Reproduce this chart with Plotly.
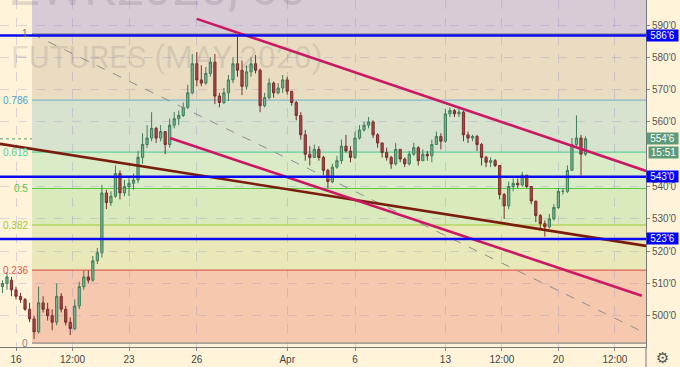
import plotly.graph_objects as go

# ---------------- data ----------------
opens = [509, 510, 511, 508, 506, 505, 502, 499, 495, 504,
         502, 500, 498, 506, 502, 498, 496, 503, 509, 512,
         511, 517, 519.5, 538, 535, 537, 544, 538, 540, 541,
         542, 549, 553, 555, 558, 555, 557, 553, 559, 561,
         562, 564.5, 569, 578, 573, 572, 575, 578.5, 568, 566,
         569, 573, 578, 576, 571, 575.5, 578, 576, 565, 567.5,
         572, 569, 570.5, 573, 569.5, 566, 562, 556, 550, 549,
         551.5, 549, 545, 541.5, 546, 548, 552.5, 551, 549, 555,
         557.5, 559, 560, 556, 553.5, 550.5, 549, 547, 551.5, 548.5,
         547, 550, 552, 548, 550, 549.5, 553, 555.5, 554, 562.5,
         563.5, 562.5, 563, 556, 555, 555.5, 553, 549, 547.5, 548,
         546.5, 537.5, 534, 540, 541, 540.5, 543.5, 540, 535.5, 531,
         528.5, 527.5, 530, 533.5, 538.5, 538.5, 545, 553, 555, 550]
highs = [511, 513.5, 512, 509, 507, 505.5, 504, 500, 509, 506,
         504, 502, 510, 507, 503, 499.5, 505, 510.5, 514, 514,
         518.5, 521, 540.5, 539, 538.5, 546.5, 545, 542, 542.5, 544,
         551, 556.5, 559, 563, 558.5, 559, 557, 561, 563, 563.5,
         566, 571.5, 581, 581.6, 577.5, 577, 580, 581, 569, 570.5,
         574.5, 580, 586.3, 579, 577.5, 580, 580.7, 576.5, 569, 573.5,
         572.5, 572, 574.5, 574, 569.5, 566.5, 563, 557.5, 552.5, 553,
         552.5, 549.5, 545.5, 547, 549.5, 554.5, 556, 552.5, 557, 559,
         560, 561.5, 560.5, 556.5, 553.5, 552, 549.5, 553.5, 551.5, 549,
         551, 553.5, 552.5, 551.5, 551, 554.5, 557, 556.5, 564, 564.5,
         564, 564, 563.5, 557, 556, 556, 553.5, 549.5, 549, 548.5,
         546.5, 538, 541.5, 542.5, 542.5, 544.5, 543.5, 540, 535.5, 531.5,
         529.5, 531.5, 534.5, 539.5, 539.5, 546.5, 555, 562, 556, 555.5]
lows = [507, 508, 506, 505, 504, 501.5, 498, 492.8, 494.5, 501,
        498.5, 495.5, 497, 501, 497, 494, 495.5, 502, 508, 510,
        510.5, 516, 518, 533, 534, 536.5, 536, 537, 537, 539,
        541, 547, 552, 554, 553.5, 554, 550, 552, 558, 559,
        561.5, 564, 568.5, 571, 571, 571.5, 574, 565.5, 564.5, 565.5,
        566.5, 572, 574, 568.3, 570, 574, 575, 563, 564.5, 567,
        567.5, 568.5, 569, 568.5, 565, 560.5, 554.5, 548, 546.5, 549,
        548, 543.5, 539.5, 541, 545.5, 547, 550.5, 547.5, 548.5, 554.5,
        557, 558, 555, 552, 549, 548, 545.5, 546.5, 547.5, 546,
        546.5, 549.5, 546.5, 548, 548, 547.5, 553, 551.5, 553.5, 561.5,
        561.5, 561.5, 554, 553.5, 554, 551, 546.5, 546, 546, 546,
        536, 530, 533, 538.5, 539.5, 540, 539.5, 534.5, 529, 527,
        524.5, 527, 529.5, 533, 537.5, 538, 545, 552, 543.5, 549.5]
closes = [510, 512, 508, 506, 505, 502, 499, 495, 504, 502,
          500, 498, 506, 502, 498, 496, 503, 509, 512, 511,
          517, 519.5, 538, 535, 537, 544, 538, 540, 541, 542,
          549, 553, 555, 558, 555, 557, 553, 559, 561, 562,
          564.5, 569, 578, 573, 572, 575, 578.5, 568, 566, 569,
          573, 578, 576, 571, 575.5, 578, 576, 565, 567.5, 572,
          569, 570.5, 573, 569.5, 566, 562, 556, 550, 549, 551.5,
          549, 545, 541.5, 546, 548, 552.5, 551, 549, 555, 557.5,
          559, 560, 556, 553.5, 550.5, 549, 547, 551.5, 548.5, 547,
          550, 552, 548, 550, 549.5, 553, 555.5, 554, 562.5, 563.5,
          562.5, 563, 556, 555, 555.5, 553, 549, 547.5, 548, 546.5,
          537.5, 534, 540, 541, 540.5, 543.5, 540, 535.5, 531, 528.5,
          527.5, 530, 533.5, 538.5, 538.5, 545, 553, 555, 550, 554.75]
# bar time index in trading days (0 = Mar 16 session)
bar_days = [round(-0.6 + 0.2 * k, 2) for k in range(len(closes))]

x_tick_days = [0, 2.5, 5, 8, 12, 15, 19, 21.5, 24, 26.5]
x_tick_labels = ["16", "12:00", "23", "26", "Apr", "6", "13", "12:00", "20", "12:00"]
price_ticks = [500, 510, 520, 530, 540, 560, 570, 580, 590]

fib_ratios = [0, 0.236, 0.382, 0.5, 0.618, 0.786, 1]
fib_labels = ["0", "0.236", "0.382", "0.5", "0.618", "0.786", "1"]
fib_low = 491.5
fib_high = 587.25
fib_start_day = 0.71

support_levels = [586.75, 543.0, 523.75]
last_price = 554.75
countdown = "15:51"

upper_channel_days = [8.0, 27.88]
upper_channel_prices = [591.9, 544.8]
lower_channel_days = [6.81, 27.69]
lower_channel_prices = [555.0, 506.2]
brown_days = [-0.71, 27.88]
brown_prices = [553.2, 521.6]
diag_days = [0.71, 28.76]
diag_prices = [587.25, 491.5]

watermark_line1 = "ZWK2020, 60"
watermark_line2 = "FUTURES (MAY 2020)"

# ---------------- styling ----------------
X_RANGE = [-0.708, 27.876]
Y_RANGE = [490.31, 597.74]
BG = "#fff4da"
FONT = "Liberation Sans"

band_colors = ["#f6c9ae", "#e8e8b8", "#d9ebbd", "#d9ebc7", "#d7e2cf", "#e9dcc0"]
top_band_color = "#d7ccd6"
fib_line_colors = ["#8c8c8c", "#e06050", "#9ccc33", "#5cc944", "#62cf9c", "#86b8cc", "#8c8c8c"]
fib_text_colors = ["#888888", "#e0564a", "#a6c431", "#4cc34c", "#4fcf98", "#4aa3d2", "#777777"]


def fmt_price(p):
    whole = int(p)
    eighths = int(round((p - whole) * 8))
    return f"{whole}'{eighths}"


def fib_price(r):
    return fib_low + r * (fib_high - fib_low)


fig = go.Figure()

shapes = []
# fib bands
for i in range(len(fib_ratios) - 1):
    shapes.append(dict(type="rect", xref="x", yref="y", x0=fib_start_day, x1=X_RANGE[1],
                       y0=fib_price(fib_ratios[i]), y1=fib_price(fib_ratios[i + 1]),
                       fillcolor=band_colors[i], line=dict(width=0), layer="below"))
shapes.append(dict(type="rect", xref="x", yref="y", x0=fib_start_day, x1=X_RANGE[1],
                   y0=fib_high, y1=Y_RANGE[1], fillcolor=top_band_color,
                   line=dict(width=0), layer="below"))
# fib lines
for r, c in zip(fib_ratios, fib_line_colors):
    shapes.append(dict(type="line", xref="x", yref="y", x0=fib_start_day, x1=X_RANGE[1],
                       y0=fib_price(r), y1=fib_price(r), line=dict(color=c, width=1.2),
                       layer="between"))
# last price dotted line
shapes.append(dict(type="line", xref="paper", yref="y", x0=0, x1=1, y0=last_price, y1=last_price,
                   line=dict(color="#5f9c7c", width=1, dash="dot"), layer="between"))
# blue horizontal levels
for lv in support_levels:
    shapes.append(dict(type="line", xref="paper", yref="y", x0=0, x1=1, y0=lv, y1=lv,
                       line=dict(color="#0a0af2", width=2.6), layer="above"))
# separator under price axis
shapes.append(dict(type="line", xref="paper", yref="paper", x0=1, x1=1, y0=0, y1=-0.06,
                   line=dict(color="#777777", width=1)))

# dashed fib diagonal
fig.add_trace(go.Scatter(x=diag_days, y=diag_prices, mode="lines",
                         line=dict(color="#8e8e8e", width=1, dash="dash"), hoverinfo="skip"))

fig.add_trace(go.Candlestick(
    x=bar_days, open=opens, high=highs, low=lows, close=closes,
    increasing=dict(line=dict(color="#3f7d5c", width=1), fillcolor="#7bb391"),
    decreasing=dict(line=dict(color="#7a2e2e", width=1), fillcolor="#a54a44"),
))

fig.add_trace(go.Scatter(x=brown_days, y=brown_prices, mode="lines",
                         line=dict(color="#7b1d0c", width=2.6), hoverinfo="skip"))
fig.add_trace(go.Scatter(x=upper_channel_days, y=upper_channel_prices, mode="lines",
                         line=dict(color="#cc1864", width=2.6), hoverinfo="skip"))
fig.add_trace(go.Scatter(x=lower_channel_days, y=lower_channel_prices, mode="lines",
                         line=dict(color="#cc1864", width=2.6), hoverinfo="skip"))

annotations = []
# watermark
annotations.append(dict(xref="paper", yref="paper", x=0.012, y=0.945, xanchor="left", yanchor="bottom",
                        text=watermark_line1, showarrow=False,
                        font=dict(family="Roboto", size=50, color="rgba(105,95,115,0.2)")))
annotations.append(dict(xref="paper", yref="paper", x=0.014, y=0.835, xanchor="left", yanchor="middle",
                        text=watermark_line2, showarrow=False,
                        font=dict(family="Roboto", size=32, color="rgba(105,95,115,0.16)")))
# fib labels
for r, lab, c in zip(fib_ratios, fib_labels, fib_text_colors):
    annotations.append(dict(xref="x", yref="y", x=fib_start_day, y=fib_price(r), xanchor="right",
                            yanchor="middle", xshift=-2, text=lab, showarrow=False,
                            font=dict(family=FONT, size=10, color=c)))
# price axis labels
for lv in support_levels:
    annotations.append(dict(xref="paper", yref="y", x=1, y=lv, xanchor="left", yanchor="middle",
                            text=fmt_price(lv), showarrow=False, bgcolor="#0000ff", width=31, height=11,
                            borderpad=0, font=dict(family=FONT, size=10, color="white")))
annotations.append(dict(xref="paper", yref="y", x=1, y=last_price, xanchor="left", yanchor="middle",
                        text=fmt_price(last_price), showarrow=False, bgcolor="#5d9a77", width=31, height=11,
                        borderpad=0, font=dict(family=FONT, size=10, color="white")))
annotations.append(dict(xref="paper", yref="y", x=1, y=last_price, xanchor="left", yanchor="middle",
                        yshift=-14, xshift=2, text=countdown, showarrow=False, bgcolor="#5d9a77",
                        width=29, height=11, borderpad=0,
                        font=dict(family=FONT, size=10, color="white")))
# settings gear
annotations.append(dict(xref="paper", yref="paper", x=1.0263, y=-0.032, xanchor="center", yanchor="middle",
                        text="⚙", showarrow=False, font=dict(family="DejaVu Sans", size=15, color="#555555")))

fig.update_layout(
    width=680, height=367,
    margin=dict(l=0, r=34, t=0, b=20),
    paper_bgcolor=BG, plot_bgcolor=BG,
    showlegend=False,
    shapes=shapes, annotations=annotations,
    xaxis=dict(range=X_RANGE, tickvals=x_tick_days, ticktext=x_tick_labels,
               showgrid=True, gridcolor="rgba(150,140,200,0.35)", griddash="dash", gridwidth=1,
               zeroline=False, ticks="outside", ticklen=3, tickcolor="#888888",
               showline=True, linecolor="#777777", linewidth=1,
               tickfont=dict(family=FONT, size=10, color="#444444"),
               rangeslider=dict(visible=False), fixedrange=True),
    yaxis=dict(side="right", range=Y_RANGE, tickvals=price_ticks,
               ticktext=[fmt_price(p) for p in price_ticks],
               showgrid=True, gridcolor="rgba(150,140,200,0.3)", griddash="dash", gridwidth=1,
               zeroline=False, ticks="outside", ticklen=3, tickcolor="#888888",
               showline=True, linecolor="#777777", linewidth=1,
               tickfont=dict(family=FONT, size=10, color="#555555"), fixedrange=True),
)

fig.write_html(
    "out.html",
    config={"displayModeBar": False},
    post_script="document.body.style.margin='0';document.body.style.padding='0';"
                "document.body.style.background='" + BG + "';",
)
